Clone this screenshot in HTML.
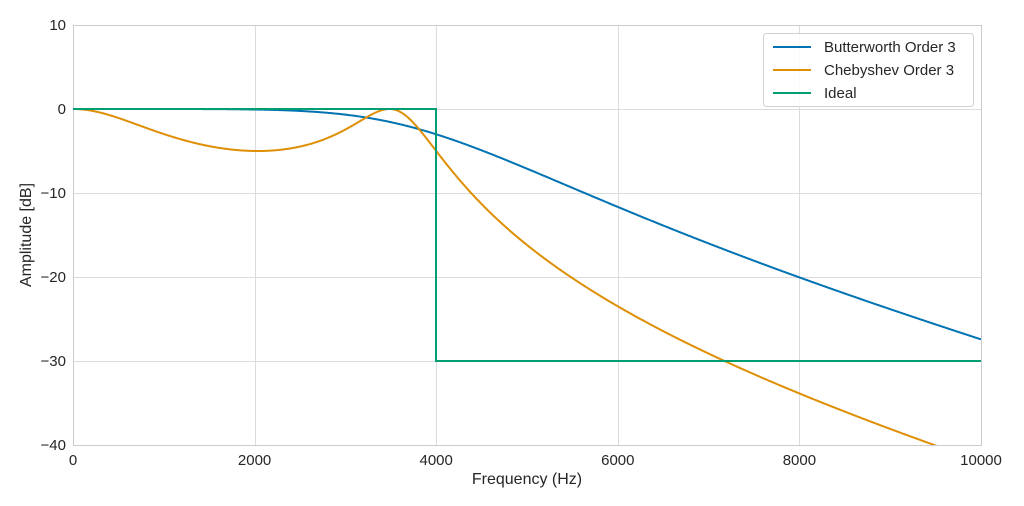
<!DOCTYPE html>
<html><head><meta charset="utf-8"><style>
html,body{margin:0;padding:0;background:#fff;}
svg{display:block;font-family:"Liberation Sans",sans-serif;}
</style></head><body>
<svg id="s" width="1024" height="506" viewBox="0 0 1024 506" xmlns="http://www.w3.org/2000/svg">
<rect width="1024" height="506" fill="#fff"/>
<g id="grid" stroke="#dcdcdc" stroke-width="1"></g>
<rect x="73.5" y="25.5" width="908" height="420" fill="none" stroke="#cccccc" stroke-width="1"/>
<defs><clipPath id="c"><rect x="73" y="25" width="908" height="420"/></clipPath></defs>
<g clip-path="url(#c)" fill="none" stroke-width="2">
<path id="bw" stroke="#0173b2"/>
<path id="ch" stroke="#de8f05"/>
<path id="id" stroke="#029e73" d="M73,109 L436,109 L436,361 L981,361"/>
</g>
<g id="lab" font-size="15" fill="#262626"></g>
<text x="527" y="484" font-size="16" text-anchor="middle" fill="#262626">Frequency (Hz)</text>
<text transform="translate(31,235) rotate(-90)" font-size="16" text-anchor="middle" fill="#262626">Amplitude [dB]</text>
<g>
<rect x="763.5" y="33.5" width="210" height="73" rx="3" fill="#fff" fill-opacity="0.85" stroke="#d0d0d0"/>
<line x1="773" y1="47" x2="811" y2="47" stroke="#0173b2" stroke-width="2"/>
<line x1="773" y1="70" x2="811" y2="70" stroke="#de8f05" stroke-width="2"/>
<line x1="773" y1="93" x2="811" y2="93" stroke="#029e73" stroke-width="2"/>
<text x="824" y="52" font-size="15" fill="#262626">Butterworth Order 3</text>
<text x="824" y="75" font-size="15" fill="#262626">Chebyshev Order 3</text>
<text x="824" y="98" font-size="15" fill="#262626">Ideal</text>
</g>
</svg>
<script>
var X=f=>73+f/10000*908, Y=d=>109-d*8.4;
var g=document.getElementById('grid'),l=document.getElementById('lab'),ns="http://www.w3.org/2000/svg";
function el(p,t,a,txt){var e=document.createElementNS(ns,t);for(var k in a)e.setAttribute(k,a[k]);if(txt!=null)e.textContent=txt;p.appendChild(e);}
for(var f=0;f<=10000;f+=2000){var x=Math.round(X(f))+0.5;el(g,'line',{x1:x,x2:x,y1:25,y2:445});el(l,'text',{x:X(f),y:465,'text-anchor':'middle'},String(f));}
for(var d=10;d>=-40;d-=10){var y=Math.round(Y(d))+0.5;el(g,'line',{x1:73,x2:981,y1:y,y2:y});el(l,'text',{x:66,y:Y(d)+5,'text-anchor':'end'},String(d).replace('-','\u2212'));}
var fs=48000,wc=Math.tan(Math.PI*4000/fs),e2=Math.pow(10,0.5)-1,a="",b="";
for(var i=0;i<=1000;i++){var f=i*10,w=Math.tan(Math.PI*f/fs)/wc,T=4*w*w*w-3*w;
var db1=-10*Math.log10(1+Math.pow(w,6)),db2=-10*Math.log10(1+e2*T*T);
a+=(i?"L":"M")+X(f).toFixed(2)+","+Y(db1).toFixed(2);b+=(i?"L":"M")+X(f).toFixed(2)+","+Y(Math.max(db2,-45)).toFixed(2);}
document.getElementById('bw').setAttribute('d',a);document.getElementById('ch').setAttribute('d',b);
</script>
</body></html>
